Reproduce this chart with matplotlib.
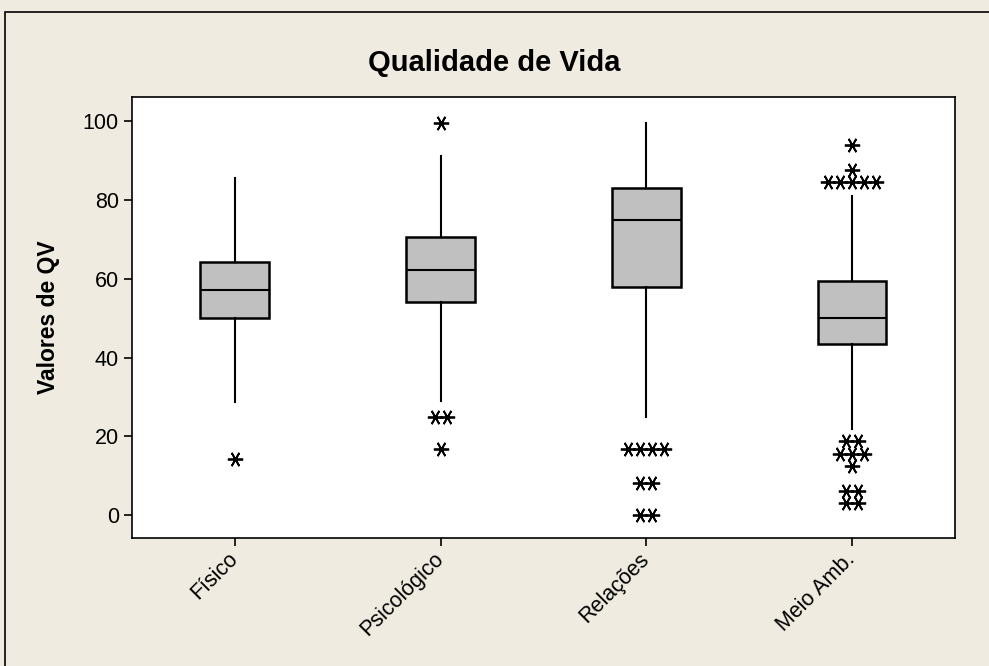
import matplotlib
matplotlib.use('Agg')
import matplotlib.pyplot as plt
from matplotlib.patches import Rectangle
import numpy as np

plt.rcParams['font.family'] = ['Liberation Sans', 'DejaVu Sans']

categories = ['Físico', 'Psicológico', 'Relações', 'Meio Amb.']
whisker_low = [28.7, 29.0, 25.0, 21.9]
q1 = [50.0, 54.0, 58.0, 43.5]
median = [57.1, 62.3, 74.8, 50.0]
q3 = [64.2, 70.6, 83.0, 59.3]
whisker_high = [85.5, 91.0, 99.5, 81.0]
# outliers: (value, count) per category
outliers = [
    [(14.3, 1)],
    [(99.5, 1), (25.0, 2), (16.7, 1)],
    [(16.7, 4), (8.3, 2), (0.0, 2)],
    [(93.8, 1), (87.5, 1), (84.4, 5), (18.75, 2), (15.6, 3), (12.5, 1), (6.25, 2), (3.1, 2)],
]

fig = plt.figure(figsize=(9.89, 6.66), dpi=100)
fig.patch.set_facecolor('#efebe0')
fig.patches.append(Rectangle((0.005, -0.05), 1.1, 1.032, transform=fig.transFigure,
                             fill=False, edgecolor='black', linewidth=1.2))

ax = fig.add_axes([0.1335, 0.192, 0.832, 0.662])
ax.set_facecolor('white')

stats = []
for i in range(len(categories)):
    stats.append({'whislo': whisker_low[i], 'q1': q1[i], 'med': median[i],
                  'q3': q3[i], 'whishi': whisker_high[i], 'fliers': []})

pos = np.arange(1, len(categories) + 1)
ax.bxp(stats, positions=pos, widths=0.335, patch_artist=True, showcaps=False,
       boxprops=dict(facecolor='#c0c0c0', edgecolor='black', linewidth=1.8),
       medianprops=dict(color='black', linewidth=1.5),
       whiskerprops=dict(color='black', linewidth=1.5))

step = 0.058
for p, outs in zip(pos, outliers):
    for val, n in outs:
        offs = (np.arange(n) - (n - 1) / 2) * step
        ax.plot(p + offs, [val] * n, linestyle='none', marker=(6, 2, 90),
                markersize=11, color='black', markeredgewidth=1.3)

ax.set_xlim(0.5, 4.5)
ax.set_ylim(-5.8, 106)
ax.set_yticks([0, 20, 40, 60, 80, 100])
ax.set_xticks(pos)
ax.set_xticklabels(categories, rotation=45, ha='right', va='center',
                   rotation_mode='anchor')
ax.tick_params(labelsize=15.5, length=6, width=1.2, direction='out')
ax.tick_params(axis='x', pad=7)
for s in ax.spines.values():
    s.set_linewidth(1.2)

ax.set_ylabel('Valores de QV', fontsize=16.5, fontweight='bold')
ax.yaxis.set_label_coords(-0.088, 0.5)
fig.text(0.5, 0.905, 'Qualidade de Vida', ha='center', va='center',
         fontsize=21, fontweight='bold')

fig.savefig('out.png', dpi=100, facecolor=fig.get_facecolor())
